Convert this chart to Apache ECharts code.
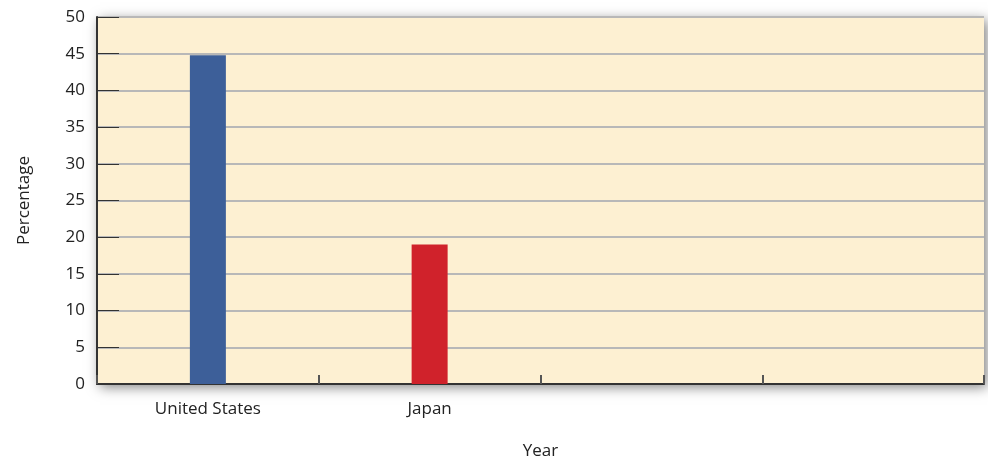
<!DOCTYPE html>
<html><head><meta charset="utf-8">
<script src="https://cdn.jsdelivr.net/npm/echarts@6/dist/echarts.min.js"></script>
<style>html,body{margin:0;padding:0;background:#fff}#c{width:988px;height:461px}</style>
</head><body><div id="c"></div>
<script>
var categories = ['United States', 'Japan', '', ''];
var values = [44.8, 19, null, null];
var barColors = ['#3d5f99', '#d0222b', '#3d5f99', '#3d5f99'];
var yTicks = [0, 5, 10, 15, 20, 25, 30, 35, 40, 45, 50];

var chart = echarts.init(document.getElementById('c'));
chart.setOption({
  animation: false,
  textStyle: {fontFamily: '"Open Sans", sans-serif'},
  grid: {left: 97, right: 4, top: 17, bottom: 77, outerBoundsMode: 'none', containLabel: false,
    show: true, backgroundColor: '#fdf0d2', borderWidth: 0,
    shadowColor: 'rgba(0,0,0,0.5)', shadowBlur: 12, shadowOffsetX: 3, shadowOffsetY: 3},
  xAxis: {
    type: 'category', data: categories, name: 'Year', nameLocation: 'middle', nameGap: 59,
    nameTextStyle: {fontSize: 17, color: '#222'},
    axisLine: {lineStyle: {color: '#333', width: 2}},
    axisTick: {show: true, inside: true, interval: 0, length: 9, lineStyle: {color: '#555', width: 2}},
    axisLabel: {fontSize: 17, color: '#222', margin: 17, interval: 0}
  },
  yAxis: {
    type: 'value', min: 0, max: 50, interval: 5, name: 'Percentage', nameLocation: 'middle', nameGap: 64,
    nameTextStyle: {fontSize: 17, color: '#222'},
    axisLine: {show: true, lineStyle: {color: '#333', width: 2}},
    axisTick: {show: true, inside: true, length: 22, lineStyle: {color: '#333', width: 1}},
    axisLabel: {fontSize: 17, color: '#222', margin: 12},
    splitLine: {lineStyle: {color: '#b8b8b8', width: 2}}
  },
  series: [{
    type: 'bar', barWidth: 36,
    data: values.map(function (v, i) { return {value: v, itemStyle: {color: barColors[i]}}; })
  }]
});
</script></body></html>
